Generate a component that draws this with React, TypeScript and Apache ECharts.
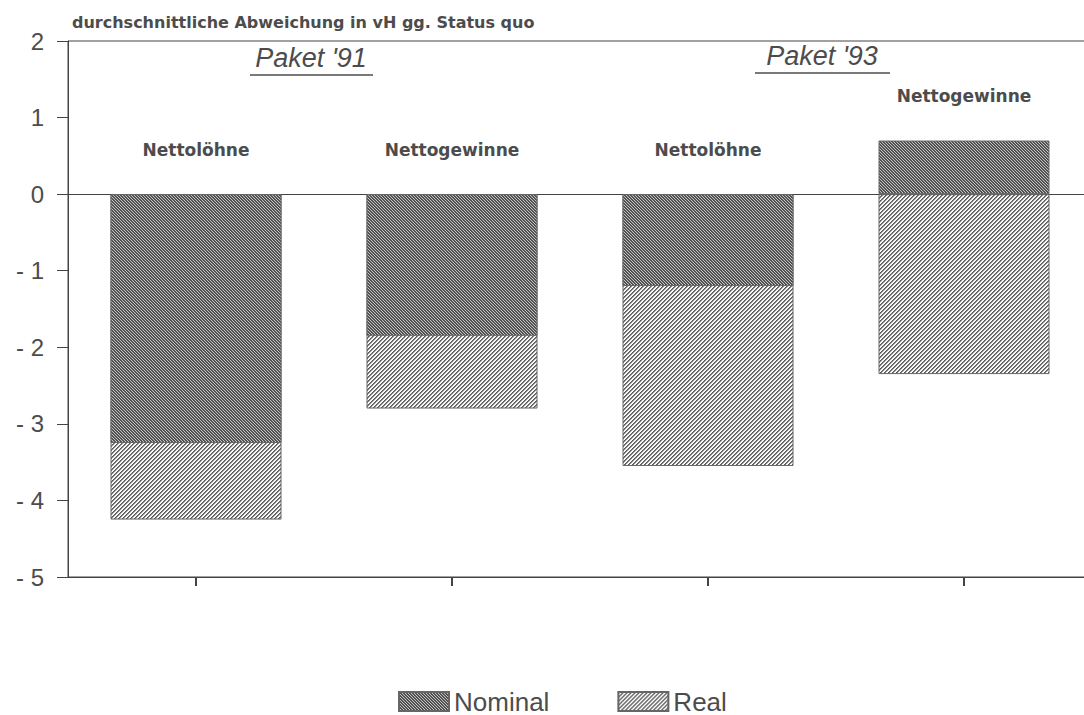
import React, { useEffect, useRef } from "react";
import * as echarts from "echarts";

const categories = ["Nettolöhne", "Nettogewinne", "Nettolöhne", "Nettogewinne"];
const groups = ["Paket '91", "Paket '93"];
const nominal = [-3.25, -1.85, -1.2, 0.7];
const real = [-4.25, -2.8, -3.55, -2.35];
const yTicks = { min: -5, max: 2, interval: 1 };
const title = "durchschnittliche Abweichung in vH gg. Status quo";

function makeHatch(period: number, values: number[], backslash: boolean) {
  const c = document.createElement("canvas");
  c.width = period;
  c.height = period;
  const ctx = c.getContext("2d")!;
  const img = ctx.createImageData(period, period);
  for (let y = 0; y < period; y++) {
    for (let x = 0; x < period; x++) {
      const k = backslash ? (((x - y) % period) + period) % period : (x + y) % period;
      const v = values[k];
      const i = (y * period + x) * 4;
      img.data[i] = v;
      img.data[i + 1] = v;
      img.data[i + 2] = v;
      img.data[i + 3] = 255;
    }
  }
  ctx.putImageData(img, 0, 0);
  return { image: c, repeat: "repeat", imageWidth: period, imageHeight: period } as any;
}

export default function App() {
  const ref = useRef<HTMLDivElement>(null);
  useEffect(() => {
    if (!ref.current) return;
    const chart = echarts.init(ref.current, undefined, { renderer: "svg" });
    const nominalFill = makeHatch(3, [0x4c, 0x58, 0xc4], true);
    const realFill = makeHatch(4, [0x58, 0x84, 0xf0, 0xff], false);
    const textColor = "#4c4c4c";
    const barW = 171;
    const option: any = {
      animation: false,
      backgroundColor: "#ffffff",
      grid: {
        left: 68,
        width: 1024,
        top: 41,
        bottom: 138,
        outerBoundsMode: "none",
        containLabel: false,
        show: true,
        borderColor: "#444",
        borderWidth: 1,
        backgroundColor: "transparent",
      },
      legend: {
        data: ["Nominal", "Real"],
        left: 393,
        top: 683,
        icon: "rect",
        itemWidth: 50,
        itemHeight: 19,
        itemGap: 68,
        textStyle: { fontFamily: "Liberation Sans", fontSize: 26, lineHeight: 27, color: textColor },
      },
      xAxis: [
        {
          type: "category",
          data: categories,
          position: "bottom",
          axisLine: { onZero: false, lineStyle: { color: "#444", width: 1 } },
          axisTick: { show: true, alignWithLabel: true, length: 9, lineStyle: { color: "#444", width: 2 } },
          axisLabel: { show: false },
          splitLine: { show: false },
        },
        {
          type: "category",
          data: categories,
          position: "top",
          axisLine: { onZero: true, lineStyle: { color: "#444", width: 1 } },
          axisTick: { show: false },
          axisLabel: { show: false },
          splitLine: { show: false },
        },
      ],
      yAxis: {
        type: "value",
        min: yTicks.min,
        max: yTicks.max,
        interval: yTicks.interval,
        axisLine: { show: true, lineStyle: { color: "#444", width: 1 } },
        axisTick: { show: true, length: 11, lineStyle: { color: "#444" } },
        splitLine: { show: false },
        axisLabel: {
          margin: 24,
          fontFamily: "Liberation Sans",
          fontSize: 24,
          color: textColor,
          formatter: (v: number) => (v < 0 ? "- " + Math.abs(v) : String(v)),
        },
      },
      series: [
        {
          name: "Real",
          type: "bar",
          data: real,
          barWidth: barW,
          barGap: "-100%",
          itemStyle: { color: realFill, borderColor: "#666", borderWidth: 1 },
          z: 2,
        },
        {
          name: "Nominal",
          type: "bar",
          data: nominal,
          barWidth: barW,
          barGap: "-100%",
          itemStyle: { color: nominalFill, borderColor: "#666", borderWidth: 1 },
          z: 3,
        },
        {
          name: "labels",
          type: "bar",
          data: nominal.map((v) => Math.max(v, 0)),
          barWidth: barW,
          barGap: "-100%",
          itemStyle: { color: "rgba(0,0,0,0)", borderWidth: 0 },
          silent: true,
          z: 4,
          label: {
            show: true,
            position: "top",
            distance: 36,
            fontFamily: "DejaVu Sans",
            fontWeight: "bold",
            fontSize: 17,
            color: textColor,
            formatter: (p: any) => categories[p.dataIndex],
          },
        },
      ],
      graphic: [
        {
          type: "text",
          left: 72,
          top: 14,
          style: {
            text: title,
            fontFamily: "DejaVu Sans",
            fontWeight: "bold",
            fontSize: 16,
            fill: textColor,
          },
        },
        {
          type: "text",
          x: 311,
          y: 71,
          style: {
            text: groups[0],
            fontFamily: "Liberation Sans",
            fontStyle: "italic",
            fontSize: 27,
            fill: textColor,
            textAlign: "center",
            textVerticalAlign: "bottom",
          },
        },
        {
          type: "line",
          shape: { x1: 250, y1: 75, x2: 373, y2: 75 },
          style: { stroke: textColor, lineWidth: 1.5 },
        },
        {
          type: "text",
          x: 822,
          y: 69,
          style: {
            text: groups[1],
            fontFamily: "Liberation Sans",
            fontStyle: "italic",
            fontSize: 27,
            fill: textColor,
            textAlign: "center",
            textVerticalAlign: "bottom",
          },
        },
        {
          type: "line",
          shape: { x1: 755, y1: 73, x2: 890, y2: 73 },
          style: { stroke: textColor, lineWidth: 1.5 },
        },
      ],
    };
    chart.setOption(option);
    return () => chart.dispose();
  }, []);
  return (
    <div
      ref={ref}
      style={{ position: "absolute", left: 0, top: 0, width: 1084, height: 715 }}
    />
  );
}
